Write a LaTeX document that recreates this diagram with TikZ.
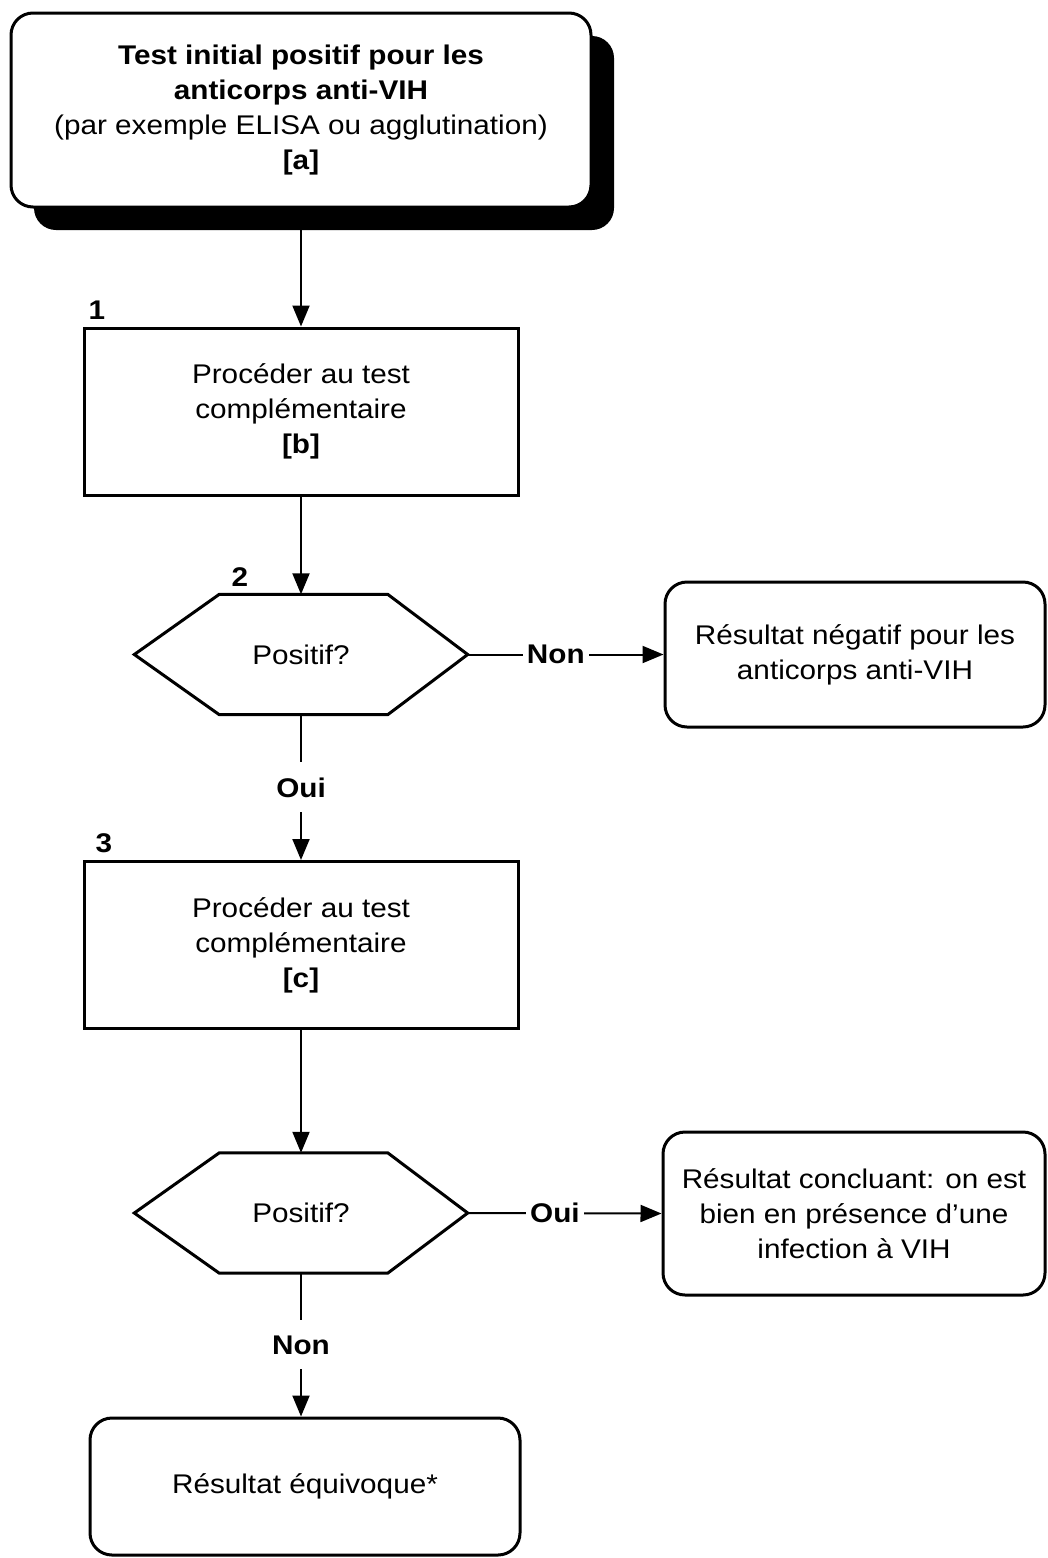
\documentclass[tikz,border=0pt]{standalone}
\usepackage{fontspec}
\setmainfont{Liberation Sans}[FakeStretch=1.1]
\usetikzlibrary{arrows.meta,shadows,positioning}

\begin{document}
\begin{tikzpicture}[
  >={Triangle[length=21pt,width=17pt]},
  every node/.style={font=\fontsize{27pt}{35pt}\selectfont},
  startbox/.style={draw, line width=3pt, rounded corners=22pt, fill=white,
    minimum width=580pt, minimum height=194pt, align=center,
    drop shadow={shadow xshift=23pt, shadow yshift=-23pt, fill=black, opacity=1}},
  stepbox/.style={draw, line width=3pt, minimum width=434pt, minimum height=167pt, align=center},
  resbox/.style={draw, line width=3pt, rounded corners=22pt, align=center},
  testbox/.style={minimum width=333pt, minimum height=120pt},
  link/.style={line width=2pt, ->},
  answer/.style={fill=white, inner xsep=4pt, inner ysep=15pt,
    font=\fontsize{27pt}{35pt}\selectfont\bfseries},
  num/.style={font=\fontsize{27pt}{35pt}\selectfont\bfseries}
]

  \useasboundingbox (0pt,0pt) rectangle (1047pt,-1558pt);

  % boxes
  \node[startbox] (start) at (301pt,-110pt)
    {\textbf{Test initial positif pour les}\\ \textbf{anticorps anti-VIH}\\
     (par exemple ELISA ou agglutination)\\ \textbf{[a]}};
  \node[stepbox] (s1) at (301pt,-411.5pt) {Procéder au test\\ complémentaire\\ \textbf{[b]}};
  \node[testbox] (t1) at (301pt,-654.5pt) {Positif?};
  \node[resbox, minimum width=380pt, minimum height=145pt] (neg) at (855pt,-654.5pt)
    {Résultat négatif pour les\\ anticorps anti-VIH};
  \node[stepbox] (s2) at (301pt,-945pt) {Procéder au test\\ complémentaire\\ \textbf{[c]}};
  \node[testbox] (t2) at (301pt,-1213pt) {Positif?};
  \node[resbox, minimum width=382pt, minimum height=163pt] (pos) at (854pt,-1213.5pt)
    {Résultat concluant: on est\\ bien en présence d'une\\ infection à VIH};
  \node[resbox, minimum width=430pt, minimum height=137pt] (equiv) at (305pt,-1486.5pt)
    {Résultat équivoque*};

  % hexagons
  \foreach \t in {t1,t2}
    \draw[line width=3pt] (\t.west) -- ([xshift=85pt]\t.north west)
      -- ([xshift=-80pt]\t.north east) -- (\t.east)
      -- ([xshift=-80pt]\t.south east) -- ([xshift=85pt]\t.south west) -- cycle;

  % numbers
  \node[num] (n1) at (97pt,-310pt) {1};
  \node[num] (n2) at (240pt,-577pt) {2};
  \node[num] (n3) at (104pt,-843pt) {3};

  % links
  \draw[link] (start.south) -- (s1.north);
  \draw[link] (s1.south) -- (t1.north);
  \draw[link] (t1.east) -- node[answer, pos=0.45]{Non} (neg.west);
  \draw[link] (t1.south) -- node[answer]{Oui} (s2.north);
  \draw[link] (s2.south) -- (t2.north);
  \draw[link] (t2.east) -- node[answer, pos=0.45]{Oui} (pos.west);
  \draw[link] (t2.south) -- node[answer]{Non} (t2.south |- equiv.north);

\end{tikzpicture}
\end{document}
